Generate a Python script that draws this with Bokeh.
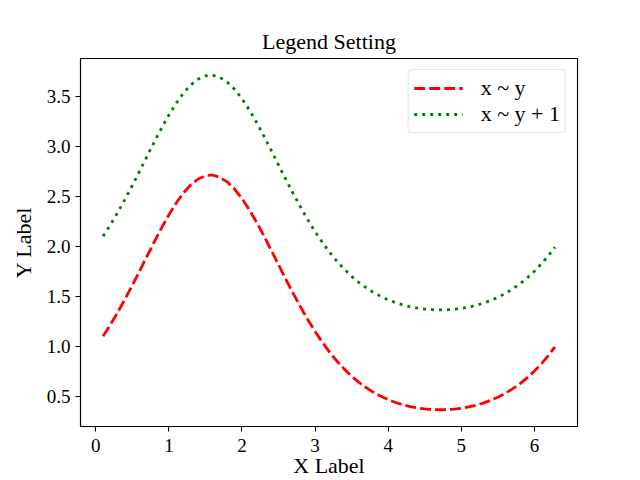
from bokeh.plotting import figure
from bokeh.models import Range1d, FixedTicker, PrintfTickFormatter
from bokeh.embed import file_html
from bokeh.resources import INLINE

x_vals = [0.1, 0.2, 0.3, 0.4, 0.5, 0.6, 0.7, 0.8, 0.9, 1.0, 1.1, 1.2, 1.3, 1.4, 1.5,
          1.57, 1.6, 1.7, 1.8, 1.9, 2.0, 2.1, 2.2, 2.3, 2.4, 2.5, 2.6, 2.7, 2.8, 2.9,
          3.0, 3.1, 3.2, 3.3, 3.4, 3.5, 3.6, 3.7, 3.8, 3.9, 4.0, 4.1, 4.2, 4.3, 4.4,
          4.5, 4.6, 4.71, 4.8, 4.9, 5.0, 5.1, 5.2, 5.3, 5.4, 5.5, 5.6, 5.7, 5.8, 5.9,
          6.0, 6.1, 6.2, 6.28]
y_vals = [1.105, 1.220, 1.344, 1.476, 1.615, 1.759, 1.904, 2.049, 2.189, 2.320,
          2.438, 2.540, 2.621, 2.679, 2.712, 2.718, 2.717, 2.696, 2.648, 2.576,
          2.483, 2.371, 2.245, 2.108, 1.965, 1.819, 1.674, 1.533, 1.398, 1.270,
          1.152, 1.043, 0.943, 0.854, 0.775, 0.704, 0.642, 0.589, 0.542, 0.503,
          0.469, 0.441, 0.418, 0.400, 0.386, 0.376, 0.370, 0.368, 0.369, 0.374,
          0.383, 0.396, 0.413, 0.435, 0.462, 0.494, 0.532, 0.577, 0.628, 0.688,
          0.756, 0.833, 0.920, 0.997]
y_plus_one = [2.105, 2.220, 2.344, 2.476, 2.615, 2.759, 2.904, 3.049, 3.189, 3.320,
              3.438, 3.540, 3.621, 3.679, 3.712, 3.718, 3.717, 3.696, 3.648, 3.576,
              3.483, 3.371, 3.245, 3.108, 2.965, 2.819, 2.674, 2.533, 2.398, 2.270,
              2.152, 2.043, 1.943, 1.854, 1.775, 1.704, 1.642, 1.589, 1.542, 1.503,
              1.469, 1.441, 1.418, 1.400, 1.386, 1.376, 1.370, 1.368, 1.369, 1.374,
              1.383, 1.396, 1.413, 1.435, 1.462, 1.494, 1.532, 1.577, 1.628, 1.688,
              1.756, 1.833, 1.920, 1.997]
x_ticks = [0, 1, 2, 3, 4, 5, 6]
y_ticks = [0.5, 1.0, 1.5, 2.0, 2.5, 3.0, 3.5]
series_labels = ["x ~ y", "x ~ y + 1"]
title_text = "Legend Setting"
x_label = "X Label"
y_label = "Y Label"

FONT = "Liberation Serif"

xmin, xmax = min(x_vals), max(x_vals)
ymin = min(y_vals + y_plus_one)
ymax = max(y_vals + y_plus_one)
xpad = (xmax - xmin) * 0.05
ypad = (ymax - ymin) * 0.05

p = figure(width=640, height=480, output_backend="svg", toolbar_location=None,
           x_range=Range1d(xmin - xpad, xmax + xpad),
           y_range=Range1d(ymin - ypad, ymax + ypad),
           min_border_left=80, min_border_right=63,
           min_border_top=58, min_border_bottom=53,
           title=title_text)

p.background_fill_color = "white"
p.border_fill_color = "white"
p.outline_line_color = "black"
p.outline_line_width = 1.1
p.xgrid.visible = False
p.ygrid.visible = False

p.title.text_font = FONT
p.title.text_font_size = "22px"
p.title.text_font_style = "normal"
p.title.align = "center"
p.title.text_color = "black"

for ax in (p.xaxis[0], p.yaxis[0]):
    ax.axis_label_text_font = FONT
    ax.axis_label_text_font_size = "22px"
    ax.axis_label_text_font_style = "normal"
    ax.axis_label_text_color = "black"
    ax.major_label_text_font = FONT
    ax.major_label_text_font_size = "19px"
    ax.major_label_text_color = "black"
    ax.major_tick_out = 5
    ax.major_tick_in = 0
    ax.minor_tick_out = 0
    ax.minor_tick_in = 0
    ax.axis_line_width = 1.1
    ax.major_tick_line_width = 1.1

p.xaxis[0].axis_label = x_label
p.yaxis[0].axis_label = y_label
p.xaxis[0].ticker = FixedTicker(ticks=x_ticks)
p.yaxis[0].ticker = FixedTicker(ticks=y_ticks)
p.xaxis[0].formatter = PrintfTickFormatter(format="%d")
p.yaxis[0].formatter = PrintfTickFormatter(format="%.1f")
p.xaxis[0].major_label_standoff = 7
p.xaxis[0].axis_label_standoff = -2
p.yaxis[0].major_label_standoff = 5
p.yaxis[0].axis_label_standoff = 8

p.line(x_vals, y_vals, line_color="#ff0000", line_width=2.8, line_dash="11 4",
       line_join="round", legend_label=series_labels[0])
p.line(x_vals, y_plus_one, line_color="#008000", line_width=2.8, line_dash="3 5",
       line_join="round", legend_label=series_labels[1])

lg = p.legend[0]
lg.location = "top_right"
lg.margin = 11
lg.padding = 5
lg.spacing = 0
lg.glyph_width = 49
lg.glyph_height = 20
lg.label_height = 20
lg.label_standoff = 18
lg.label_text_font = FONT
lg.label_text_font_size = "22px"
lg.label_text_color = "black"
lg.border_line_color = "#cccccc"
lg.border_line_width = 1
lg.background_fill_color = "white"
lg.background_fill_alpha = 0.8
if "border_radius" in lg.properties():
    lg.border_radius = 4

open("out.html", "w").write(file_html(p, INLINE))
